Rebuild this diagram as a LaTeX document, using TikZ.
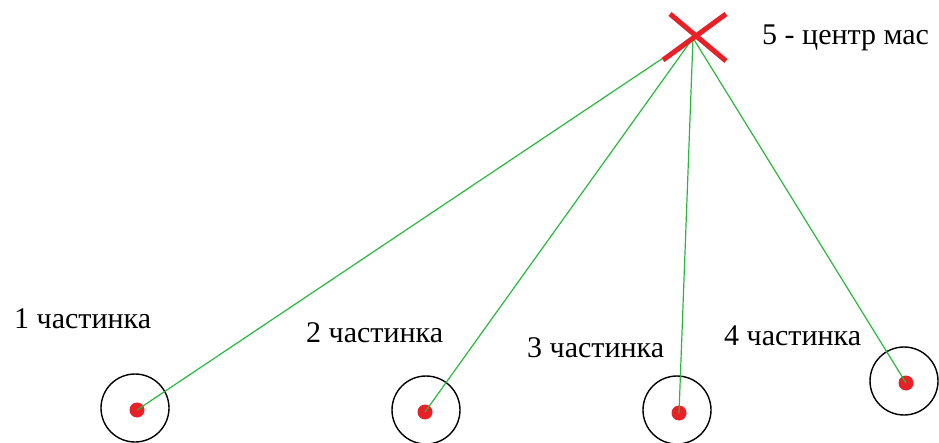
\documentclass[tikz,border=0pt]{standalone}
\usepackage{fontspec}
\setmainfont{Liberation Serif}
\newfontfamily\lblfont{Liberation Serif}
\definecolor{lgreen}{RGB}{40,185,60}
\definecolor{xred}{RGB}{232,32,40}
\tikzset{
  lbl/.style={anchor=base west, inner sep=0pt, font=\lblfont\fontsize{30}{32}\selectfont},
  ring/.style={draw=black, line width=1.4pt, circle, minimum size=68pt, inner sep=0pt},
  dot/.style={fill=xred, circle, minimum size=15pt, inner sep=0pt},
  link/.style={draw=lgreen, line width=1.2pt},
  crossline/.style={draw=xred, line width=5pt}
}
\begin{document}
\begin{tikzpicture}[x=1pt,y=-1pt]
\useasboundingbox (0,0) rectangle (939,443);
% cross (centre of mass)
\coordinate (c) at (693,38);
\coordinate (x1) at (670,14);
\coordinate (x2) at (726,61);
\coordinate (x3) at (726,14);
\coordinate (x4) at (663,60);
% particles
\node[ring] (r1) at (135,408) {};
\node[ring] (r2) at (426,410) {};
\node[ring] (r3) at (677,410) {};
\node[ring] (r4) at (904,381) {};
\node[dot] (d1) at (137,410) {};
\node[dot] (d2) at (425,412) {};
\node[dot] (d3) at (679,413) {};
\node[dot] (d4) at (906,383) {};
% links
\draw[link] (c) -- (d1.center);
\draw[link] (c) -- (d2.center);
\draw[link] (c) -- (d3.center);
\draw[link] (c) -- (d4.center);
\draw[crossline] (x1) -- (x2);
\draw[crossline] (x3) -- (x4);
% labels
\node[lbl] (t5) at (762,45) {5 - центр мас};
\node[lbl] (t1) at (14,328) {1 частинка};
\node[lbl] (t2) at (306,342) {2 частинка};
\node[lbl] (t3) at (527,357) {3 частинка};
\node[lbl] (t4) at (724,345) {4 частинка};
\end{tikzpicture}
\end{document}
